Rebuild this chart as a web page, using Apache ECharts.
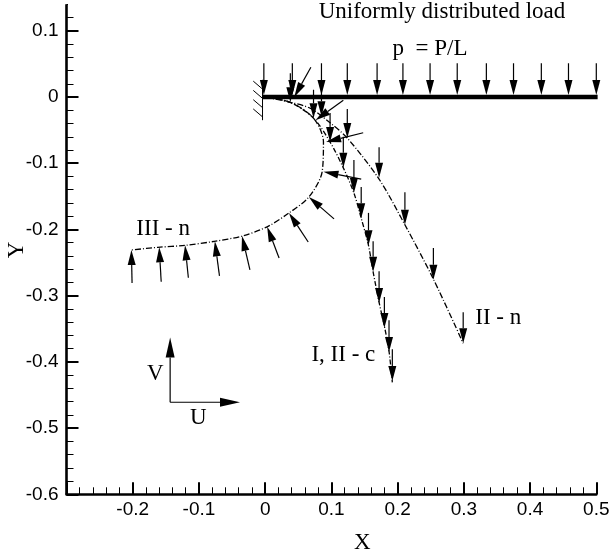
<!DOCTYPE html>
<html><head><meta charset="utf-8">
<style>html,body{margin:0;padding:0;background:#fff}#c{width:610px;height:550px}</style>
<script src="https://cdn.jsdelivr.net/npm/echarts@6/dist/echarts.min.js"></script>
</head><body><div id="c"></div>
<script>
// Curves [x, y]
var curveIIc = [[0,0],[.038,-.008],[.073,-.032],[.098,-.068],[.118,-.107],[.134,-.145],[.145,-.183],[.156,-.224],[.163,-.264],[.172,-.310],[.180,-.346],[.187,-.384],[.192,-.431]];
var curveIIn = [[0,0],[.038,-.008],[.068,-.017],[.098,-.039],[.124,-.062],[.172,-.124],[.211,-.193],[.254,-.275],[.299,-.372]];
var curveIIIn = [[0,0],[.038,-.008],[.073,-.032],[.088,-.068],[.086,-.113],[.066,-.151],[.036,-.175],[.003,-.196],[-.035,-.210],[-.077,-.218],[-.121,-.224],[-.162,-.227],[-.202,-.231]];
var beam = [[-.004,0],[.502,0]];
var yAxisSpine = [[-.3,-.6],[-.3,.14]];
// Uniform load arrows: x positions, tail y, tip y
var loadX = [-.002,.041,.085,.124,.169,.208,.249,.290,.334,.375,.417,.458,.500];
var loadTailY = .051, loadTipY = .003;
// Force arrows [tailX, tailY, tipX, tipY]
var arrowsIIc = [[.038,.036,.038,-.008],[.069,.045,.044,0],[.073,.011,.073,-.032],[.118,-.005,.076,-.035],[.085,.014,.085,-.029],[.098,-.024,.098,-.068],[.118,-.060,.118,-.107],[.134,-.095,.134,-.145],[.145,-.136,.145,-.183],[.156,-.175,.156,-.224],[.163,-.218,.163,-.264],[.172,-.263,.172,-.311],[.180,-.302,.180,-.349],[.187,-.337,.187,-.385],[.192,-.381,.192,-.429]];
var arrowsIIn = [[.124,-.018,.124,-.062],[.172,-.076,.172,-.122],[.211,-.144,.211,-.193],[.254,-.228,.254,-.276],[.299,-.325,.299,-.372]];
var arrowsIIIn = [[.148,-.054,.092,-.068],[.145,-.124,.088,-.113],[.104,-.184,.066,-.151],[.065,-.219,.036,-.175],[.021,-.243,.003,-.196],[-.023,-.261,-.035,-.210],[-.069,-.270,-.076,-.218],[-.116,-.273,-.121,-.224],[-.157,-.279,-.160,-.227],[-.201,-.281,-.202,-.231]];
var keyArrows = [[-.1435,-.461,-.1435,-.363],[-.1435,-.461,-.038,-.461]];
// Clamped-end wall [x1,y1,x2,y2]
var wall = [[-.004,.026,-.004,-.035]];
var hatch = [[-.018,.024,-.004,.012],[-.018,.010,-.004,-.002],[-.018,-.004,-.004,-.016],[-.018,-.018,-.004,-.030]];
// Annotations [text, x, y]
var notes = [["Uniformly distributed load",.267,.129],["p  = P/L",.249,.073],["III - n",-.154,-.2],["I, II - c",.118,-.389],["II - n",.352,-.333],["V",-.166,-.418],["U",-.101,-.484]];

var load = loadX.map(function(x){return [x,loadTailY,x,loadTipY];});
var allArrows = load.concat(arrowsIIc, arrowsIIn, arrowsIIIn);

function arrowItem(headLen, headW, lw){
  return function(params, api){
    var a = api.coord([api.value(0),api.value(1)]), b = api.coord([api.value(2),api.value(3)]);
    var dx=b[0]-a[0], dy=b[1]-a[1], L=Math.sqrt(dx*dx+dy*dy), ux=dx/L, uy=dy/L;
    var bx=b[0]-ux*headLen, by=b[1]-uy*headLen;
    return {type:'group',children:[
      {type:'line',shape:{x1:a[0],y1:a[1],x2:bx,y2:by},style:{stroke:'#000',lineWidth:lw}},
      {type:'polygon',shape:{points:[[b[0],b[1]],[bx-uy*headW/2,by+ux*headW/2],[bx+uy*headW/2,by-ux*headW/2]]},style:{fill:'#000'}}
    ]};
  };
}
function segItem(params, api){
  var a = api.coord([api.value(0),api.value(1)]), b = api.coord([api.value(2),api.value(3)]);
  return {type:'line',shape:{x1:a[0],y1:a[1],x2:b[0],y2:b[1]},style:{stroke:'#000',lineWidth:1}};
}
function curve(d,dash){
  return {type:'line',data:d,smooth:.3,showSymbol:false,symbol:'none',clip:false,silent:true,z:3,
    lineStyle:{color:'#000',width:1.3,type:dash}};
}
var serif = '"Liberation Serif","Times New Roman",serif', sans='"Liberation Sans",Arial,sans-serif';
var chart = echarts.init(document.getElementById('c'),null,{renderer:'canvas'});
chart.setOption({
  animation:false,
  backgroundColor:'#fff',
  graphic:[{type:'rect',left:68,top:1,shape:{width:9,height:6},style:{fill:'#fff'},z:100,silent:true}],
  grid:{left:66.5,right:13.7,top:-35.4,bottom:55.7,containLabel:false,outerBoundsMode:'none'},
  xAxis:{type:'value',min:-.3,max:.5,interval:.1,name:'X',nameLocation:'middle',nameGap:37,
    nameTextStyle:{fontFamily:serif,fontSize:23,color:'#000',padding:[0,0,0,62]},
    splitLine:{show:false},
    axisLine:{onZero:false,lineStyle:{color:'#000',width:2.6}},
    axisTick:{inside:true,length:12,lineStyle:{color:'#000',width:2}},
    minorTick:{show:true,splitNumber:5,length:7,lineStyle:{color:'#000',width:1}},
    axisLabel:{fontFamily:sans,fontSize:19,color:'#000',margin:6,showMinLabel:false,
      formatter:function(v){return Math.abs(v)<1e-9?'0':+v.toFixed(1)+'';}}
  },
  yAxis:{type:'value',min:-.6,max:.2,interval:.1,name:'Y',nameLocation:'middle',nameGap:38,nameMoveOverlap:false,
    nameTextStyle:{fontFamily:serif,fontSize:23,color:'#000',padding:[0,41,0,0]},
    splitLine:{show:false},
    axisLine:{show:false,onZero:false},
    axisTick:{inside:true,length:12,lineStyle:{color:'#000',width:2}},
    minorTick:{show:true,splitNumber:5,length:7,lineStyle:{color:'#000',width:1}},
    axisLabel:{fontFamily:sans,fontSize:19,color:'#000',margin:8,showMaxLabel:false,
      formatter:function(v){return Math.abs(v)<1e-9?'0':+v.toFixed(1)+'';}}
  },
  series:[
    {type:'line',data:yAxisSpine,showSymbol:false,symbol:'none',clip:false,z:2,lineStyle:{color:'#000',width:2.6,cap:'butt'}},
    curve(curveIIc,[5,2,1,2]),
    curve(curveIIn,[6,2,1,2]),
    curve(curveIIIn,[6,2,1,2]),
    {type:'line',data:beam,showSymbol:false,symbol:'none',clip:false,z:4,lineStyle:{color:'#000',width:4.6,cap:'butt'}},
    {type:'custom',coordinateSystem:'cartesian2d',data:wall.concat(hatch),renderItem:segItem,clip:false,encode:{x:[0,2],y:[1,3]},z:4},
    {type:'custom',coordinateSystem:'cartesian2d',data:allArrows,renderItem:arrowItem(15,8,1.2),clip:false,encode:{x:[0,2],y:[1,3]},z:5},
    {type:'custom',coordinateSystem:'cartesian2d',data:keyArrows,renderItem:arrowItem(20,9,1.2),clip:false,encode:{x:[0,2],y:[1,3]},z:5},
    {type:'custom',coordinateSystem:'cartesian2d',data:notes,clip:false,encode:{x:1,y:2},z:6,
      renderItem:function(p,api){
        var c=api.coord([api.value(1),api.value(2)]);
        return {type:'text',style:{text:notes[p.dataIndex][0],x:c[0],y:c[1],align:'center',verticalAlign:'middle',
          font:'23px '+serif,fill:'#000'}};
      }}
  ]
});
</script></body></html>
